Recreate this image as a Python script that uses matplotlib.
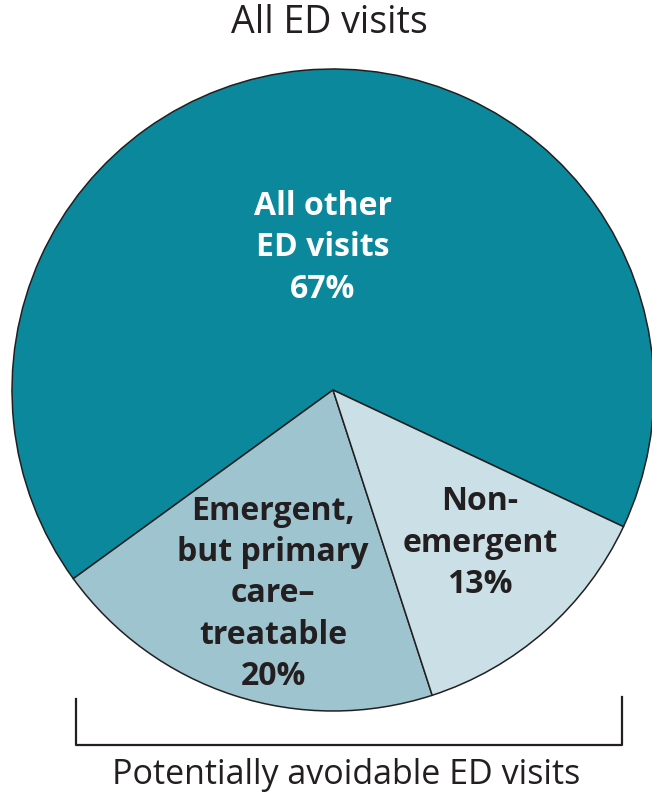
import matplotlib.pyplot as plt

# ED visit shares, in percent
categories = ["All other\nED visits", "Emergent,\nbut primary\ncare–\ntreatable", "Non-\nemergent"]
shares = [67, 20, 13]
colors = ["#0b889c", "#9ec4d0", "#cbe0e6"]
text_colors = ["white", "#231f20", "#231f20"]

W, H = 652, 796
fig = plt.figure(figsize=(W / 100, H / 100), dpi=100)
ax = fig.add_axes([0, 0, 1, 1])
ax.set_xlim(0, W)
ax.set_ylim(0, H)
ax.set_aspect("equal")
ax.axis("off")

cx, cy, r = 333, H - 390, 321
ax.pie(shares, colors=colors, startangle=-25.2, counterclock=True,
       center=(cx, cy), radius=r,
       wedgeprops=dict(edgecolor="#231f20", linewidth=1.1))
ax.set_xlim(0, W)
ax.set_ylim(0, H)

label_pos = [(323, H - 248), (273, H - 594), (480, H - 543)]
for cat, val, (x, y), tc in zip(categories, shares, label_pos, text_colors):
    ax.text(x, y, f"{cat}\n{val}%", ha="center", va="center", color=tc,
            fontsize=23, fontweight="bold", family="Open Sans", linespacing=1.33)

ax.text(329, H - 23, "All ED visits", ha="center", va="center",
        fontsize=27, color="#231f20", family="Open Sans")

# bracket under the avoidable slices
bx0, bx1, by, btop = 75.5, 622, H - 745, H - 699
ax.plot([bx0, bx0, bx1, bx1], [btop, by, by, btop + 2], color="#231f20", lw=1.6)
ax.text(346, H - 775, "Potentially avoidable ED visits", ha="center", va="center",
        fontsize=24.5, color="#231f20", family="Open Sans")

fig.savefig("out.png", dpi=100)
